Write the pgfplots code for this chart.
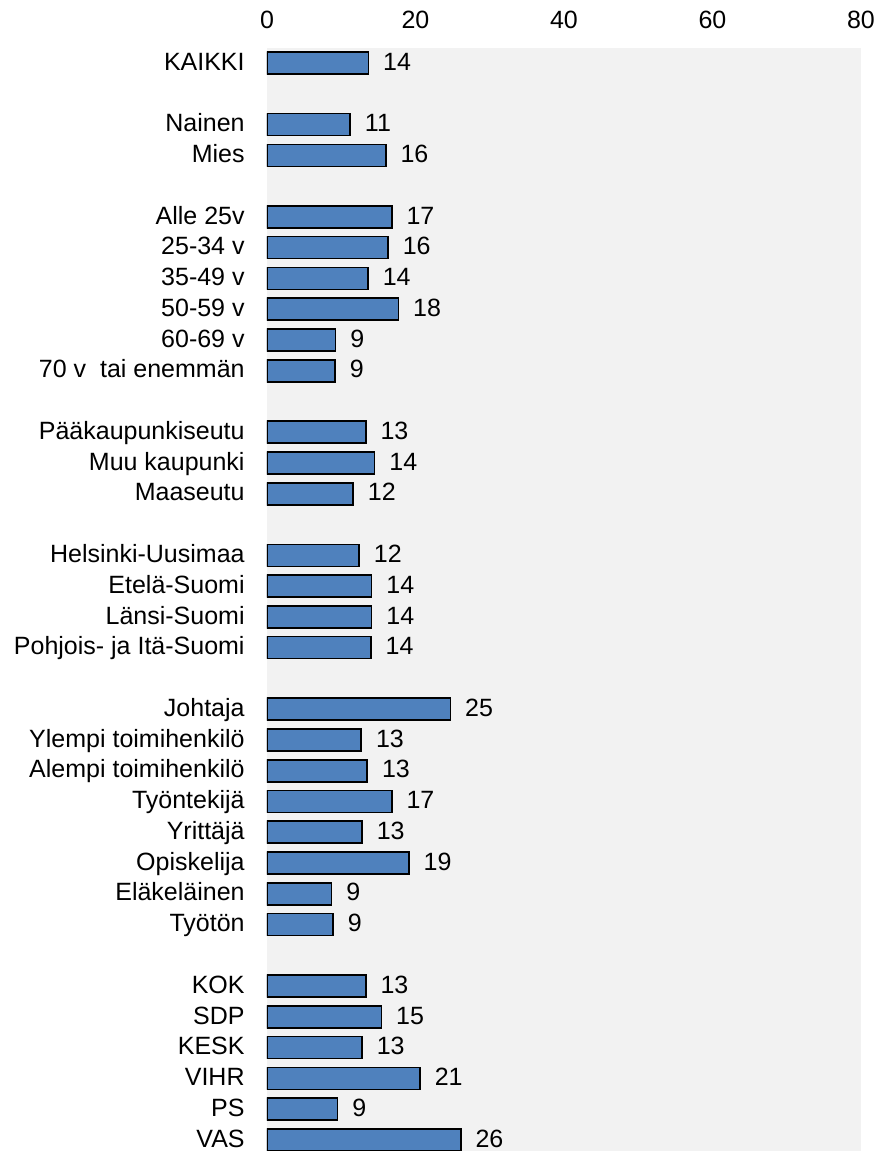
\documentclass[border=0pt]{standalone}
\usepackage{fontspec}
\setmainfont{Liberation Sans}
\usepackage{pgfplots}
\usepackage{pgfplotstable}
\pgfplotsset{compat=1.18}

\definecolor{barblue}{HTML}{4F81BD}
\definecolor{bggray}{HTML}{F2F2F2}

% pos = row (blank rows between groups), val = bar length, lab = printed value
\pgfplotstableread[col sep=comma]{
pos,val,lab,name
0,13.65,14,KAIKKI
2,11.2,11,Nainen
3,16.0,16,Mies
5,16.8,17,Alle 25v
6,16.3,16,25-34 v
7,13.6,14,35-49 v
8,17.7,18,50-59 v
9,9.25,9,60-69 v
10,9.16,9,70 v~ tai enemmän
12,13.3,13,Pääkaupunkiseutu
13,14.5,14,Muu kaupunki
14,11.6,12,Maaseutu
16,12.4,12,Helsinki-Uusimaa
17,14.1,14,Etelä-Suomi
18,14.1,14,Länsi-Suomi
19,14.0,14,Pohjois- ja Itä-Suomi
21,24.7,25,Johtaja
22,12.7,13,Ylempi toimihenkilö
23,13.5,13,Alempi toimihenkilö
24,16.8,17,Työntekijä
25,12.8,13,Yrittäjä
26,19.1,19,Opiskelija
27,8.7,9,Eläkeläinen
28,8.9,9,Työtön
30,13.3,13,KOK
31,15.4,15,SDP
32,12.8,13,KESK
33,20.6,21,VIHR
34,9.5,9,PS
35,26.1,26,VAS
}\data

\begin{document}
\begin{tikzpicture}
\useasboundingbox (-133.5bp,0) rectangle (305bp,575.5bp);
\begin{axis}[
  at={(0,0)}, anchor=south west,
  scale only axis,
  width=297bp, height=551.5bp,
  xbar, bar width=11bp, bar shift=0pt,
  xmin=0, xmax=80,
  ymin=-0.49, ymax=35.36,
  y dir=reverse,
  xtick={0,20,40,60,80},
  xticklabel pos=upper,
  ytick=data,
  yticklabels from table={\data}{name},
  axis line style={draw=none},
  major tick style={draw=none},
  major tick length=0pt,
  axis background/.style={fill=bggray},
  /pgf/number format/assume math mode=true,
  every tick label/.append style={font=\fontsize{12.5bp}{15bp}\selectfont},
  xticklabel style={inner sep=0pt, anchor=south, yshift=9.5bp},
  yticklabel style={inner sep=0pt, anchor=east, xshift=-11bp,
    text height=0.72em, text depth=0pt},
  nodes near coords={\pgfplotspointmeta},
  point meta=explicit symbolic,
  every node near coord/.append style={font=\fontsize{12.5bp}{15bp}\selectfont,
    inner sep=0pt, anchor=west, xshift=7bp, text height=0.72em, text depth=0pt},
]
\addplot[fill=barblue, draw=black, line width=0.8bp]
  table[x=val, y=pos, meta=lab] {\data};
\end{axis}
\end{tikzpicture}
\end{document}
